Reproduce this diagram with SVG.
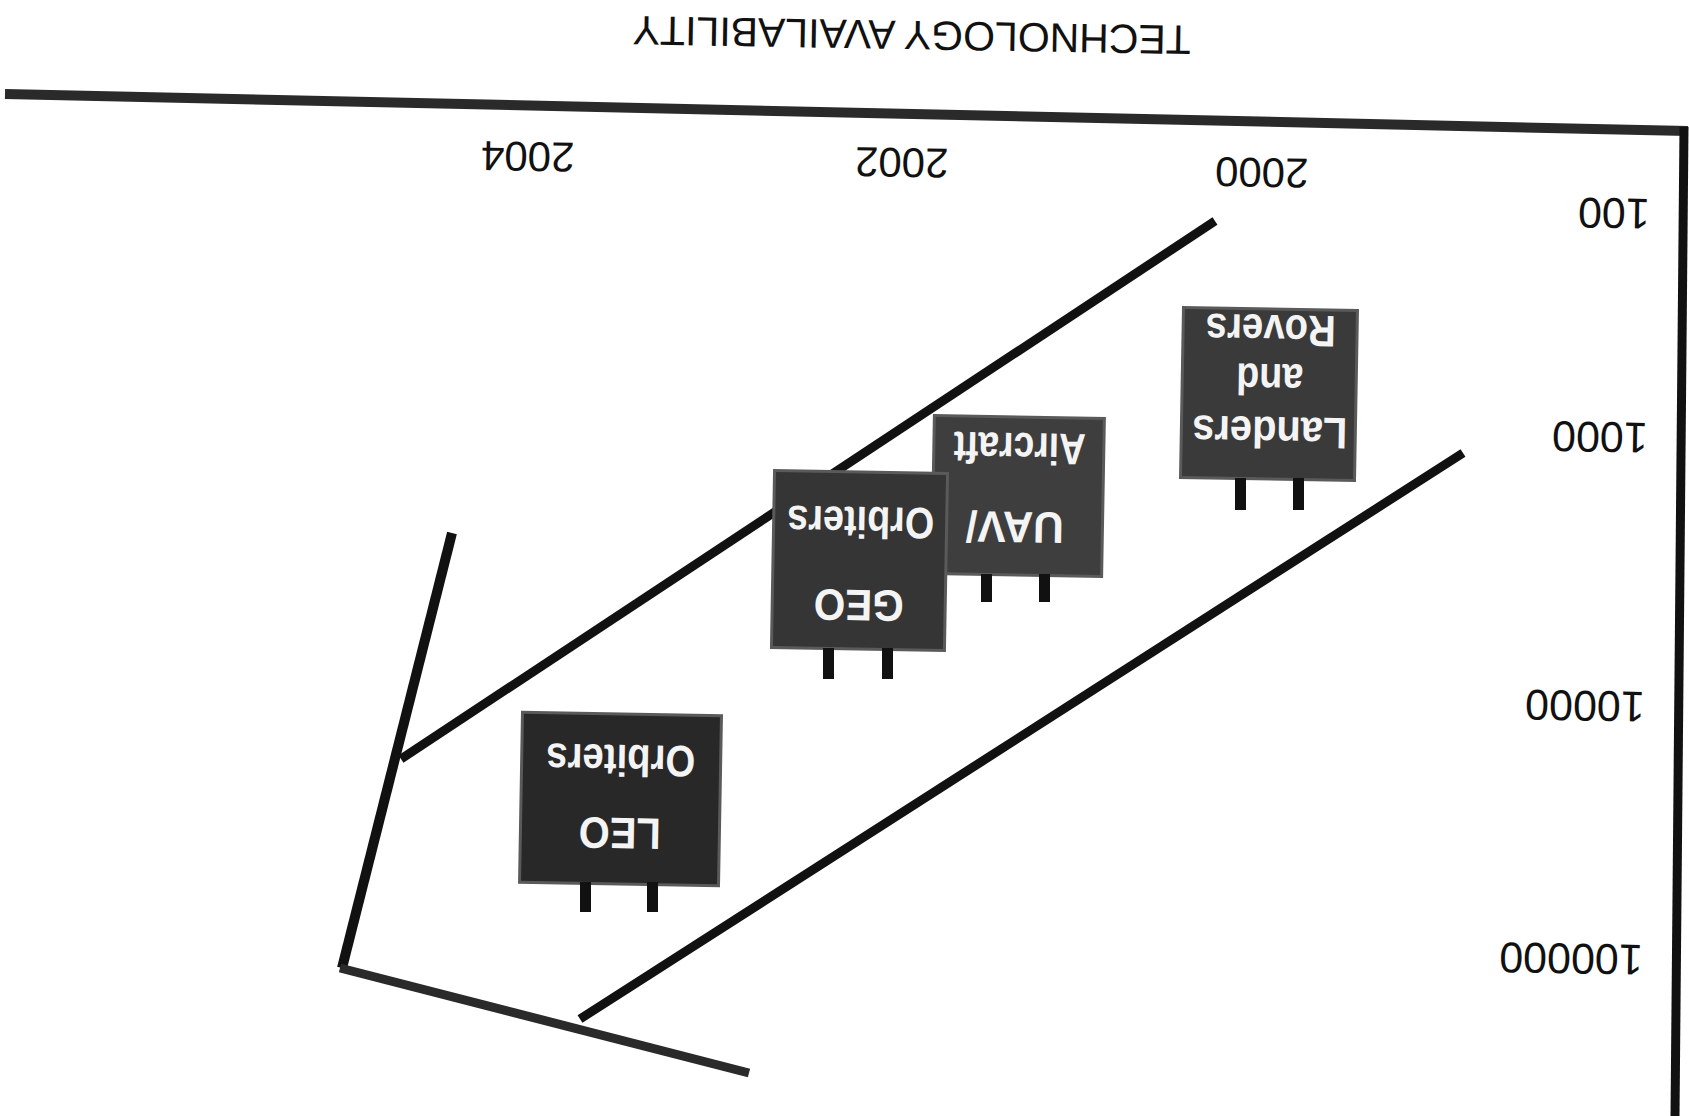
<svg xmlns="http://www.w3.org/2000/svg" width="1689" height="1116" viewBox="0 0 1689 1116">
<style>
.axis{font-family:"Liberation Sans",Arial,sans-serif;fill:#111;}
.lbl{font-family:"Liberation Sans",Arial,sans-serif;font-weight:bold;font-size:44px;fill:#f4f4f4;text-anchor:middle;}
.box{stroke:#5a5a5a;stroke-width:3;}
.leg{fill:#111;}
.ln{fill:none;stroke:#111;stroke-linecap:butt;}
.dith{stroke:#2a2a2a;}
</style>
<rect width="1689" height="1116" fill="#fff"/>
<g id="axes">
  <text class="axis" x="912" y="21" font-size="41" text-anchor="middle" transform="rotate(181 912 21)">TECHNOLOGY AVAILABILITY</text>
  <text class="axis" x="528" y="142" font-size="42" text-anchor="middle" transform="rotate(181 528 142)">2004</text>
  <text class="axis" x="902" y="148" font-size="42" text-anchor="middle" transform="rotate(181 902 148)">2002</text>
  <text class="axis" x="1262" y="158" font-size="42" text-anchor="middle" transform="rotate(181 1262 158)">2000</text>
  <text class="axis" x="1650" y="199" font-size="43" text-anchor="start" transform="rotate(181 1650 199)">100</text>
  <text class="axis" x="1648" y="423" font-size="43" text-anchor="start" transform="rotate(181 1648 423)">1000</text>
  <text class="axis" x="1645" y="692" font-size="43" text-anchor="start" transform="rotate(181 1645 692)">10000</text>
  <text class="axis" x="1643" y="945" font-size="43" text-anchor="start" transform="rotate(181 1643 945)">100000</text>
</g>
<g id="connectors">
  <line class="ln dith" x1="5" y1="94" x2="1688" y2="131" stroke-width="10"/>
  <line class="ln" x1="1684" y1="127" x2="1675" y2="1116" stroke-width="9"/>
  <line class="ln" x1="1215" y1="221" x2="401" y2="759" stroke-width="9" stroke-linecap="round"/>
  <line class="ln" x1="1463" y1="453" x2="580" y2="1019" stroke-width="9" stroke-linecap="round"/>
  <line class="ln" x1="452" y1="533" x2="342" y2="968" stroke-width="10"/>
  <line class="ln dith" x1="340" y1="968" x2="749" y2="1073" stroke-width="9"/>
</g>
<g id="node-landers">
  <rect class="box" x="1182" y="309" width="174" height="170" fill="#3a3a3a" transform="rotate(1 1269 394)"/>
  <rect class="leg" x="1235" y="478" width="11" height="32"/>
  <rect class="leg" x="1293" y="478" width="11" height="32"/>
  <text class="lbl" x="1270" y="417" textLength="155" lengthAdjust="spacingAndGlyphs" transform="rotate(181 1270 417)">Landers</text>
  <text class="lbl" x="1270" y="364" textLength="67" lengthAdjust="spacingAndGlyphs" transform="rotate(181 1270 364)">and</text>
  <text class="lbl" x="1271" y="315" textLength="130" lengthAdjust="spacingAndGlyphs" transform="rotate(181 1271 315)">Rovers</text>
</g>
<g id="node-uav">
  <rect class="box" x="933" y="417" width="170" height="158" fill="#3e3e3e" transform="rotate(1 1018 496)"/>
  <rect class="leg" x="981" y="574" width="11" height="28"/>
  <rect class="leg" x="1039" y="574" width="11" height="28"/>
  <text class="lbl" x="1015" y="512" textLength="98" lengthAdjust="spacingAndGlyphs" transform="rotate(181 1015 512)">UAV/</text>
  <text class="lbl" x="1020" y="433" textLength="132" lengthAdjust="spacingAndGlyphs" transform="rotate(181 1020 433)">Aircraft</text>
</g>
<g id="node-geo">
  <rect class="box" x="773" y="472" width="173" height="177" fill="#353535" transform="rotate(1 859 560)"/>
  <rect class="leg" x="823" y="648" width="11" height="31"/>
  <rect class="leg" x="882" y="648" width="11" height="31"/>
  <text class="lbl" x="859" y="590" textLength="90" lengthAdjust="spacingAndGlyphs" transform="rotate(181 859 590)">GEO</text>
  <text class="lbl" x="861" y="507" textLength="147" lengthAdjust="spacingAndGlyphs" transform="rotate(181 861 507)">Orbiters</text>
</g>
<g id="node-leo">
  <rect class="box" x="521" y="714" width="199" height="170" fill="#282828" transform="rotate(1 620 799)"/>
  <rect class="leg" x="580" y="882" width="11" height="30"/>
  <rect class="leg" x="647" y="882" width="11" height="30"/>
  <text class="lbl" x="620" y="818" textLength="82" lengthAdjust="spacingAndGlyphs" transform="rotate(181 620 818)">LEO</text>
  <text class="lbl" x="621" y="745" textLength="149" lengthAdjust="spacingAndGlyphs" transform="rotate(181 621 745)">Orbiters</text>
</g>
</svg>
